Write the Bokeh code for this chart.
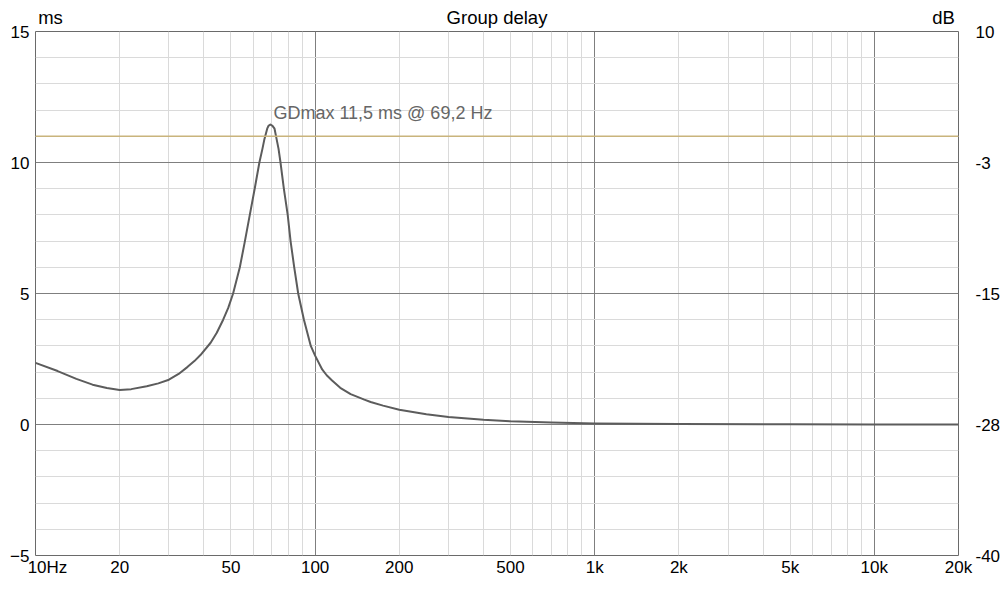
import math
from bokeh.plotting import figure
from bokeh.models import Range1d, LinearAxis, LogAxis, FixedTicker, Label, Span
from bokeh.embed import file_html
from bokeh.resources import INLINE

# ---- data ----
freq_hz = [10, 12, 14, 16, 18, 20, 22, 25, 27.5, 30, 32.5, 35, 37, 38.9, 42.3, 44.5,
           46.9, 48.9, 50.9, 53.8, 56.1, 58.4, 60.8, 63.2, 64.8, 65.9, 67.4, 68.1,
           69.2, 70.4, 71.6, 72.8, 74.0, 75.2, 77.3, 79.8, 81.7, 84.2, 87.0, 91.2,
           96.5, 100, 106, 110, 115, 123, 134, 150, 158, 175, 200, 250, 300, 400,
           500, 700, 1000, 2000, 5000, 10000, 20000]
group_delay_ms = [2.35, 2.04, 1.74, 1.52, 1.39, 1.32, 1.35, 1.46, 1.57, 1.71, 1.93,
                  2.2, 2.42, 2.65, 3.12, 3.5, 4.0, 4.45, 5.0, 6.0, 7.0, 8.0, 9.0,
                  10.0, 10.52, 10.9, 11.29, 11.40, 11.45, 11.40, 11.29, 10.9, 10.52,
                  10.0, 9.0, 8.0, 7.0, 6.0, 5.0, 4.0, 3.0, 2.63, 2.10, 1.88, 1.68,
                  1.40, 1.16, 0.95, 0.86, 0.72, 0.56, 0.39, 0.29, 0.18, 0.12, 0.08,
                  0.04, 0.02, 0.01, 0.0, 0.0]

x_tick_values = [10, 20, 50, 100, 200, 500, 1000, 2000, 5000, 10000, 20000]
x_tick_labels = ["10Hz", "20", "50", "100", "200", "500", "1k", "2k", "5k", "10k", "20k"]
x_major_grid = [10, 100, 1000, 10000]
x_minor_grid = [20, 30, 40, 50, 60, 70, 80, 90,
                200, 300, 400, 500, 600, 700, 800, 900,
                2000, 3000, 4000, 5000, 6000, 7000, 8000, 9000]

ms_ticks = [-5, 0, 5, 10, 15]
ms_minor = [-4, -3, -2, -1, 1, 2, 3, 4, 6, 7, 8, 9, 11, 12, 13, 14]

db_ticks = [10, -2.5, -15, -27.5, -40]
db_labels = ["10", "-3", "-15", "-28", "-40"]

title_text = "Group delay"
left_unit = "ms"
right_unit = "dB"

gd_max_ms = 11.5
gd_max_hz = 69.2
gd_label = "GDmax 11,5 ms  @ 69,2 Hz"
ref_level_ms = 11.0

# ---- layout ----
FONT = "Liberation Sans"
MAJOR = "#7f7f7f"
MINOR = "#dadada"
FW, FH = 923, 524
X0, X1 = 10, 20000
px_per_decade = FW / math.log10(X1 / X0)


def shifted(f, px):
    """frequency lying px pixels to the right of f on the log axis"""
    return f * 10 ** (px / px_per_decade)


p = figure(frame_width=FW, frame_height=FH,
           x_axis_type="log", x_range=Range1d(X0, X1), y_range=Range1d(-5, 15),
           output_backend="svg", toolbar_location=None, title=None,
           min_border_left=35, min_border_right=44, min_border_top=31, min_border_bottom=30,
           background_fill_color="white", border_fill_color="white")

p.outline_line_color = "#6a6a6a"
p.outline_line_width = 1

# bottom axis: the "10Hz" label begins at the 10 Hz line ("10" centred, "Hz" appended)
xa = p.xaxis[0]
bottom_ticks = [shifted(x_tick_values[0], 12)] + x_tick_values[1:]
xa.ticker = FixedTicker(ticks=bottom_ticks)
xa.major_label_overrides = dict(zip(bottom_ticks, x_tick_labels))

ya = p.yaxis[0]
ya.ticker = FixedTicker(ticks=ms_ticks)

p.extra_y_ranges = {"db": Range1d(-40, 10)}
ra = LinearAxis(y_range_name="db", ticker=FixedTicker(ticks=db_ticks),
                major_label_overrides=dict(zip(db_ticks, db_labels)))
p.add_layout(ra, "right")

# top row: unit "ms" at left, title centred, unit "dB" at right
top_ticks = [shifted(X0, 15), math.sqrt(X0 * X1), shifted(X1, -15)]
ta = LogAxis(ticker=FixedTicker(ticks=top_ticks),
             major_label_overrides=dict(zip(top_ticks, [left_unit, title_text, right_unit])))
p.add_layout(ta, "above")

for ax, so, fs in ((xa, 2, "17px"), (ya, 6, "17px"), (ra, 17, "17px"), (ta, 4, "18.5px")):
    ax.axis_line_color = None
    ax.major_tick_line_color = None
    ax.minor_tick_line_color = None
    ax.major_tick_in = 0
    ax.major_tick_out = 0
    ax.minor_tick_in = 0
    ax.minor_tick_out = 0
    ax.major_label_standoff = so
    ax.major_label_text_font = FONT
    ax.major_label_text_font_size = fs
    ax.major_label_text_color = "#000000"

# grids
xg = p.xgrid[0]
xg.ticker = FixedTicker(ticks=x_major_grid, minor_ticks=x_minor_grid)
xg.grid_line_color = MAJOR
xg.minor_grid_line_color = MINOR
yg = p.ygrid[0]
yg.ticker = FixedTicker(ticks=ms_ticks, minor_ticks=ms_minor)
yg.grid_line_color = MAJOR
yg.minor_grid_line_color = MINOR

# reference level line
p.add_layout(Span(location=ref_level_ms, dimension="width",
                  line_color="#c9b47c", line_width=1.5))

# curve
p.line(freq_hz, group_delay_ms, line_color="#5c5c5c", line_width=2, line_join="round")

# peak annotation
p.add_layout(Label(x=gd_max_hz, y=gd_max_ms, x_offset=3, y_offset=10, text=gd_label,
                   text_font=FONT, text_font_size="18px", text_color="#666666",
                   text_baseline="alphabetic", text_align="left"))

open("out.html", "w").write(file_html(p, INLINE))
